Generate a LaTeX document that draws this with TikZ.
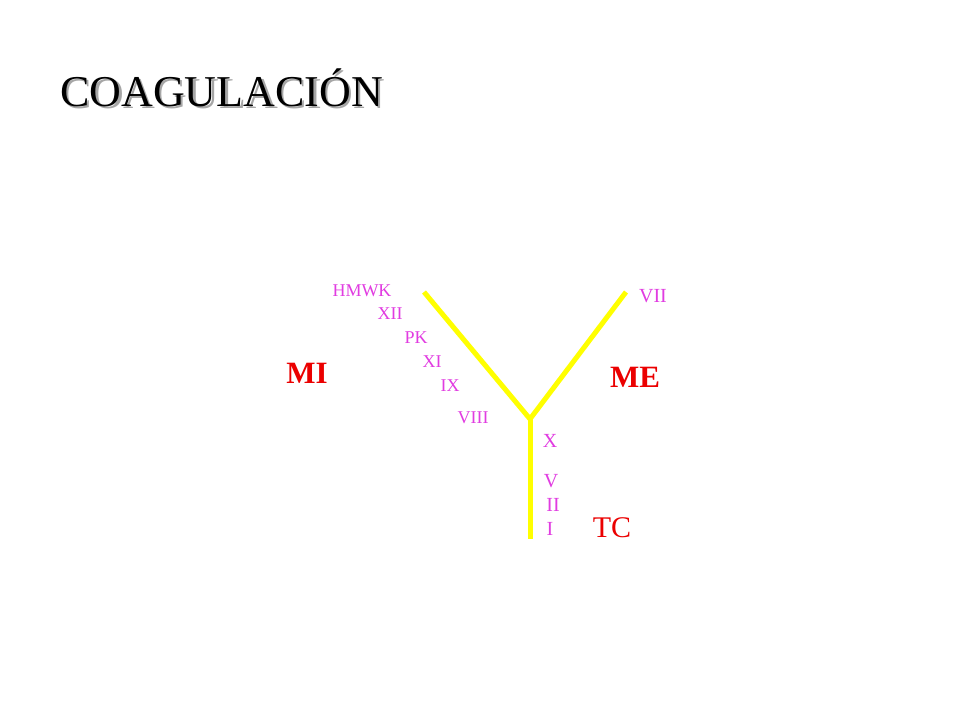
\documentclass[tikz,border=0pt]{standalone}
\usepackage{fontspec}
\setmainfont{Liberation Serif}
\definecolor{lab}{RGB}{225,60,225}
\definecolor{yel}{RGB}{255,255,0}
\definecolor{redt}{RGB}{235,0,0}
\begin{document}
\begin{tikzpicture}[x=1pt,y=-1pt,
  small/.style={text=lab,inner sep=0pt,anchor=base,font=\fontsize{18}{18}\selectfont},
  mid/.style={text=lab,inner sep=0pt,anchor=base,font=\fontsize{20}{20}\selectfont},
  big/.style={text=redt,inner sep=0pt,anchor=base,font=\fontsize{31}{31}\selectfont\bfseries},
  branch/.style={draw=yel,line width=5pt}]
\path[fill=white] (0,0) rectangle (960,720);
\useasboundingbox (0,0) rectangle (960,720);
% title with shadow
\node[anchor=base west,inner sep=0pt,text=black!35,font=\fontsize{44}{44}\selectfont] (tshadow) at (62.5,108.5) {COAGULACIÓN};
\node[anchor=base west,inner sep=0pt,font=\fontsize{44}{44}\selectfont] (title) at (60,106) {COAGULACIÓN};
% Y
\coordinate (lt) at (424,292);
\coordinate (rt) at (626,292);
\coordinate (j) at (530,419);
\coordinate (b) at (530,539);
\draw[branch,line join=miter] (lt) -- (j) -- (rt);
\draw[branch] (j) -- (b);
% labels
\node[small] (hmwk) at (362,296) {HMWK};
\node[small] (xii) at (390,319) {XII};
\node[small] (pk) at (416,343) {PK};
\node[small] (xi) at (432,367) {XI};
\node[small] (ix) at (450,391) {IX};
\node[small] (viii) at (473,423) {VIII};
\node[mid] (vii) at (653,302) {VII};
\node[mid] (x) at (550,447) {X};
\node[mid] (v) at (551,487) {V};
\node[mid] (ii) at (553,511) {II};
\node[mid] (i) at (550,535) {I};
\node[big] (mi) at (307,383) {MI};
\node[big] (me) at (635,387) {ME};
\node[text=redt,inner sep=0pt,anchor=base,font=\fontsize{30}{30}\selectfont] (tc) at (612,537) {TC};
\end{tikzpicture}
\end{document}
